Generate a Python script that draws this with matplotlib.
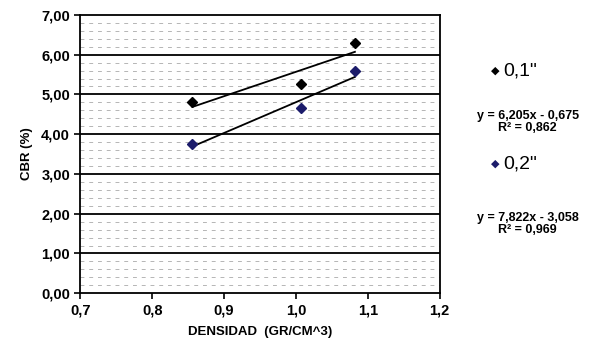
import numpy as np
import matplotlib
matplotlib.use("Agg")
from matplotlib import pyplot as plt

plt.rcParams['font.family'] = ['Liberation Sans', 'DejaVu Sans']

densidad = [0.856, 1.007, 1.082]
cbr_01 = [4.80, 5.27, 6.30]
cbr_02 = [3.76, 4.65, 5.58]
eq_01 = "y = 6,205x - 0,675\nR² = 0,862"
eq_02 = "y = 7,822x - 3,058\nR² = 0,969"
xticks = [0.7, 0.8, 0.9, 1.0, 1.1, 1.2]
yticks = [0, 1, 2, 3, 4, 5, 6, 7]

fig = plt.figure(figsize=(5.91, 3.47), dpi=100)
ax = fig.add_axes([0.136, 0.155, 0.608, 0.802])

# faint scan-like hatch lines in the plot area
for yy in np.arange(0.2, 7, 0.2):
    if abs(yy - round(yy)) > 0.01:
        ax.axhline(yy, color='#b5b5b5', lw=0.7, ls=(0, (4, 5)), zorder=0)
for yy in yticks[1:-1]:
    ax.axhline(yy, color='black', lw=1.3, zorder=1)

x = np.array(densidad)
for yv, col in [(cbr_01, 'black'), (cbr_02, '#1c1c6b')]:
    k, b = np.polyfit(x, yv, 1)
    ax.plot([x.min(), x.max()], [k * x.min() + b, k * x.max() + b],
            color='black', lw=1.3, zorder=2)
    ax.plot(x, yv, ls='none', marker='D', ms=5.5, color=col, zorder=3)

ax.set_xlim(0.7, 1.2)
ax.set_ylim(0, 7)
ax.set_xticks(xticks)
ax.set_xticklabels([f"{t:.1f}".replace('.', ',') for t in xticks])
ax.set_yticks(yticks)
ax.set_yticklabels([f"{t:.2f}".replace('.', ',') for t in yticks])
ax.tick_params(labelsize=10.5, width=1.2, length=4, direction='out')
for lab in ax.get_xticklabels() + ax.get_yticklabels():
    lab.set_fontweight('bold')
for s in ax.spines.values():
    s.set_linewidth(1.3)

ax.set_xlabel("DENSIDAD  (GR/CM^3)", fontsize=9.5, fontweight='bold', labelpad=6)
ax.set_ylabel("CBR (%)", fontsize=9.5, fontweight='bold', labelpad=6)

fig.text(0.830, 0.795, "◆", color='black', fontsize=8, va='center',
         family=['DejaVu Sans'])
fig.text(0.852, 0.795, '0,1"', fontsize=14, va='center')
fig.text(0.893, 0.648, eq_01, fontsize=9, fontweight='bold',
         ha='center', va='center', linespacing=1.0)
fig.text(0.830, 0.527, "◆", color='#1c1c6b', fontsize=8, va='center',
         family=['DejaVu Sans'])
fig.text(0.852, 0.527, '0,2"', fontsize=14, va='center')
fig.text(0.893, 0.355, eq_02, fontsize=9, fontweight='bold',
         ha='center', va='center', linespacing=1.0)

fig.savefig("out.png", dpi=100)
